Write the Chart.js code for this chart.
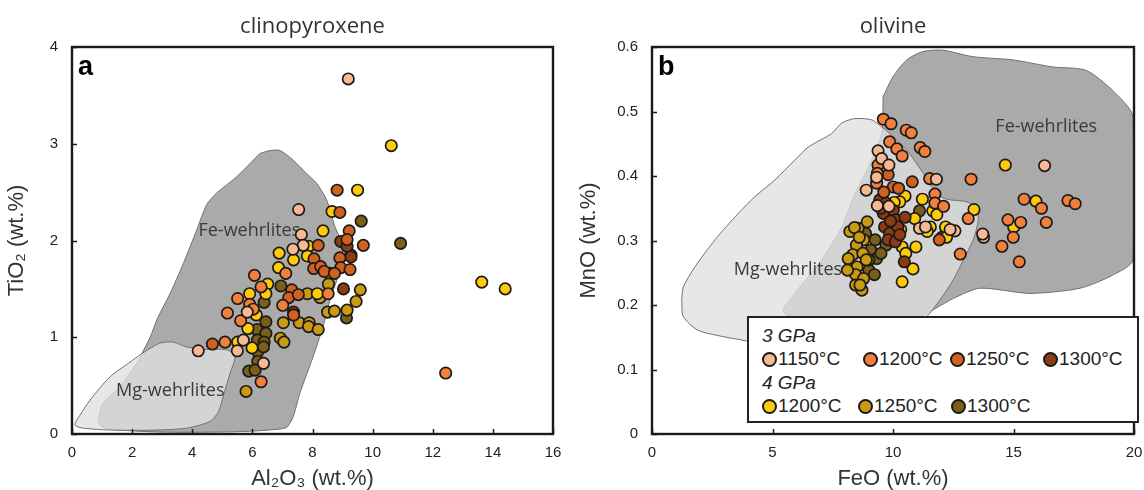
<!DOCTYPE html>
<html><head><meta charset="utf-8">
<script src="https://cdn.jsdelivr.net/npm/chart.js@4.4.1/dist/chart.umd.min.js"></script>
<style>
html,body{margin:0;padding:0;background:#fff}
body{width:1144px;height:490px;overflow:hidden;position:relative;font-family:"Liberation Sans",Arial,sans-serif}
#wa{position:absolute;left:0;top:0;width:572px;height:490px}
#wb{position:absolute;left:572px;top:0;width:572px;height:490px}
#legend{position:absolute;left:747px;top:316px;width:388px;height:103px;border:2px solid #222;background:#fff;color:#222;font-size:19px}
#legend .h{position:absolute;left:13px;font-style:italic;line-height:20px}
#legend .it{position:absolute;display:flex;align-items:center;line-height:20px;white-space:nowrap}
#legend .m{display:inline-block;width:15px;height:15px;border:2px solid #1a1a1a;border-radius:50%;box-sizing:border-box;margin-right:1px}
</style></head>
<body>
<div id="wa"><canvas id="ca" width="572" height="490"></canvas></div>
<div id="wb"><canvas id="cb" width="572" height="490"></canvas></div>
<div id="legend"></div>
<script>
// ---------- series labels & colours ----------
const seriesNames = ["1150°C","1200°C","1250°C","1300°C","1200°C","1250°C","1300°C"];
const seriesGroups = ["3 GPa","3 GPa","3 GPa","3 GPa","4 GPa","4 GPa","4 GPa"];
const seriesColors = ["#F8B892","#F2803C","#D2611F","#8C3B12","#FFCA08","#C99A12","#7B5F19"];

// ---------- panel a: clinopyroxene (Al2O3, TiO2) ----------
const cpx_3GPa_1150 = [[9.19,3.67],[7.54,2.32],[7.63,2.06],[7.69,1.95],[7.35,1.91],[5.83,1.26],[5.70,0.97],[4.20,0.86],[5.50,0.86],[6.37,0.73]];
const cpx_3GPa_1200 = [[7.11,1.66],[6.07,1.64],[6.29,1.52],[5.51,1.40],[5.91,1.34],[6.03,1.29],[5.17,1.25],[5.61,1.17],[5.09,0.95],[6.29,0.54],[12.43,0.63],[8.52,1.45],[7.01,1.33]];
const cpx_3GPa_1250 = [[8.82,2.52],[8.91,2.29],[9.22,2.10],[9.69,1.95],[8.19,1.95],[9.15,2.01],[8.05,1.81],[8.04,1.71],[8.27,1.73],[8.39,1.68],[8.91,1.82],[8.94,1.72],[9.25,1.70],[8.73,1.66],[7.31,1.49],[7.21,1.41],[7.53,1.44],[7.37,1.23],[4.67,0.93]];
const cpx_3GPa_1300 = [[8.94,1.99],[9.15,1.94],[9.28,1.83],[9.03,1.50],[7.37,1.26]];
const cpx_4GPa_1200 = [[10.62,2.98],[9.50,2.52],[8.65,2.30],[8.35,2.10],[7.87,1.94],[6.89,1.87],[7.37,1.80],[7.83,1.84],[6.87,1.72],[6.51,1.55],[6.45,1.45],[8.16,1.45],[5.91,1.45],[6.13,1.23],[5.85,1.09],[5.51,0.95],[5.99,0.89],[13.63,1.57],[14.41,1.50]];
const cpx_4GPa_1250 = [[8.55,1.66],[7.83,1.45],[8.25,1.41],[8.53,1.55],[9.59,1.49],[9.45,1.37],[7.03,1.15],[7.56,1.15],[7.89,1.15],[7.87,1.11],[8.19,1.08],[8.50,1.26],[8.73,1.27],[9.15,1.28],[6.93,0.99],[7.05,0.95],[5.79,0.44]];
const cpx_4GPa_1300 = [[9.62,2.20],[10.93,1.97],[6.95,1.53],[6.39,1.36],[9.13,1.20],[6.15,1.08],[6.45,1.16],[6.45,1.04],[6.17,0.97],[6.39,0.95],[6.18,0.85],[6.37,0.90],[6.18,0.75],[5.88,0.65],[6.09,0.66],[9.28,1.85]];
const cpx_FeWehrlite = [[6.25,2.90],[6.59,2.93],[6.92,2.93],[7.36,2.83],[7.81,2.69],[8.14,2.59],[8.47,2.42],[8.75,2.14],[8.95,2.0],[9.0,1.9],[8.92,1.70],[8.58,1.38],[8.35,1.11],[8.02,0.80],[7.58,0.42],[7.36,0.18],[7.15,0.07],[6.87,0.05],[6.03,0.03],[4.83,0.02],[3.0,0.02],[1.6,0.04],[1.0,0.07],[0.88,0.145],[1.04,0.32],[1.6,0.49],[2.15,0.73],[2.32,0.83],[2.6,1.0],[2.85,1.2],[3.26,1.45],[3.70,1.76],[4.15,2.11],[4.48,2.37],[4.81,2.49],[5.48,2.66],[6.25,2.90]];
const cpx_MgWehrlite = [[0.16,0.145],[0.60,0.35],[1.26,0.59],[1.87,0.73],[2.32,0.83],[2.93,0.94],[3.37,0.95],[3.81,0.90],[4.37,0.875],[5.15,0.87],[5.42,0.80],[5.26,0.63],[5.03,0.39],[4.87,0.23],[4.59,0.13],[3.81,0.06],[2.70,0.04],[1.37,0.04],[0.38,0.06],[0.1,0.09],[0.16,0.145]];
const cpx_labelFe = [5.9,2.10];
const cpx_labelMg = [3.27,0.45];

// ---------- panel b: olivine (FeO, MnO) ----------
const ol_3GPa_1150 = [[9.38,0.439],[9.53,0.427],[9.83,0.417],[9.32,0.398],[8.89,0.378],[16.29,0.416],[13.76,0.305],[13.72,0.310],[11.10,0.319],[11.35,0.321],[12.57,0.315],[12.37,0.317],[9.35,0.354],[9.83,0.353],[11.80,0.395]];
const ol_3GPa_1200 = [[9.60,0.488],[9.92,0.481],[9.86,0.453],[10.16,0.442],[10.38,0.431],[10.55,0.471],[10.76,0.467],[11.13,0.444],[11.32,0.438],[9.38,0.417],[9.35,0.404],[9.32,0.389],[11.52,0.396],[11.74,0.372],[11.74,0.358],[12.10,0.353],[13.24,0.395],[13.12,0.334],[12.79,0.279],[14.52,0.291],[14.99,0.305],[14.77,0.332],[15.30,0.328],[15.24,0.267],[15.44,0.364],[16.16,0.350],[16.36,0.328],[17.26,0.362],[17.56,0.357]];
const ol_3GPa_1250 = [[9.80,0.402],[10.80,0.391],[10.01,0.383],[10.23,0.381],[11.92,0.301],[9.62,0.375]];
const ol_3GPa_1300 = [[9.45,0.363],[9.71,0.358],[9.60,0.342],[10.01,0.347],[10.13,0.332],[9.65,0.321],[9.86,0.311],[10.20,0.321],[10.50,0.336],[9.80,0.301],[10.10,0.298],[10.28,0.309],[10.47,0.267],[9.50,0.350],[9.90,0.330]];
const ol_4GPa_1200 = [[14.66,0.417],[15.93,0.361],[15.01,0.321],[13.36,0.348],[11.22,0.364],[10.50,0.369],[10.28,0.360],[10.05,0.359],[11.65,0.346],[11.82,0.340],[10.90,0.334],[12.18,0.321],[11.55,0.321],[11.42,0.314],[10.32,0.317],[10.38,0.290],[10.53,0.280],[10.95,0.290],[10.83,0.256],[10.38,0.236],[12.22,0.305]];
const ol_4GPa_1250 = [[8.21,0.314],[8.55,0.319],[8.78,0.301],[8.48,0.293],[8.93,0.329],[8.33,0.278],[8.75,0.280],[8.14,0.272],[8.51,0.259],[8.89,0.270],[8.45,0.247],[8.78,0.241],[8.45,0.231],[8.71,0.223],[8.63,0.231],[8.11,0.254],[8.40,0.320],[8.60,0.305]];
const ol_4GPa_1300 = [[8.86,0.311],[9.26,0.301],[9.08,0.285],[9.32,0.272],[9.00,0.254],[9.23,0.247],[9.71,0.293],[11.10,0.346],[12.03,0.305],[9.0,0.270],[9.5,0.28]];
const ol_FeWehrlite = [[9.59,0.523],[10.0,0.554],[10.57,0.580],[11.24,0.593],[12.07,0.595],[13.32,0.585],[14.98,0.580],[16.64,0.569],[18.0,0.564],[19.1,0.533],[19.96,0.492],[19.96,0.27],[19.1,0.246],[17.76,0.226],[15.68,0.218],[13.6,0.226],[12.5,0.21],[11.0,0.18],[9.0,0.165],[6.5,0.17],[5.45,0.19],[5.93,0.218],[7.04,0.270],[7.87,0.321],[8.42,0.373],[8.98,0.414],[9.53,0.466],[9.59,0.523]];
const ol_MgWehrlite = [[1.23,0.208],[1.30,0.228],[1.78,0.259],[2.61,0.301],[3.58,0.342],[4.27,0.368],[5.10,0.394],[5.93,0.425],[6.49,0.445],[7.46,0.466],[7.87,0.482],[8.42,0.489],[9.12,0.487],[9.53,0.476],[9.74,0.470],[10.57,0.440],[11.26,0.404],[11.81,0.373],[12.23,0.364],[13.06,0.360],[13.47,0.350],[13.54,0.332],[13.33,0.301],[12.92,0.270],[12.50,0.239],[11.95,0.208],[11.40,0.182],[10.43,0.155],[9.0,0.14],[6.0,0.13],[3.69,0.146],[2.95,0.151],[1.90,0.161],[1.30,0.182],[1.23,0.208]];
const ol_labelFe = [16.36,0.476];
const ol_labelMg = [5.64,0.255];

// ---------- axes ----------
const cpxX = {min:0,max:16,step:2,title:"Al₂O₃ (wt.%)"};
const cpxY = {min:0,max:4,step:1,title:"TiO₂ (wt.%)"};
const olX = {min:0,max:20,step:5,title:"FeO (wt.%)"};
const olY = {min:0,max:0.6,step:0.1,title:"MnO (wt.%)"};

const toXY = arr => arr.map(p => ({x:p[0], y:p[1]}));

function pointSet(i, arr){
  return {label: seriesGroups[i]+" "+seriesNames[i], data: toXY(arr), order:0,
    backgroundColor: seriesColors[i], borderColor:"#1a1a1a", borderWidth:1.7,
    pointRadius:5.7, pointHoverRadius:5.7, showLine:false};
}
function regionSet(name, arr, fillCol, ord){
  return {label:name, data: toXY(arr), order:ord, showLine:true, fill:'shape',
    backgroundColor: fillCol, borderColor:"#707070", borderWidth:1, pointRadius:0, tension:0.25, region:name};
}

const decor = {
  id:'decor',
  afterDatasetDraw(chart, args, opts){
    const ds = chart.data.datasets[args.index];
    if (ds.region !== 'Mg') return;
    const {ctx, scales:{x,y}} = chart;
    ctx.save();
    ctx.fillStyle = '#3a3a3a';
    ctx.font = '18px "Open Sans", "Noto Sans", sans-serif';
    ctx.textAlign='center'; ctx.textBaseline='middle';
    ctx.fillText('Fe-wehrlites', x.getPixelForValue(opts.fe[0]), y.getPixelForValue(opts.fe[1]));
    ctx.fillText('Mg-wehrlites', x.getPixelForValue(opts.mg[0]), y.getPixelForValue(opts.mg[1]));
    ctx.restore();
  },
  afterDraw(chart, args, opts){
    const {ctx, chartArea:a, scales:{x,y}} = chart;
    ctx.save();
    ctx.strokeStyle='#1a1a1a'; ctx.lineWidth=1.5;
    x.ticks.forEach(t=>{const px=Math.round(x.getPixelForValue(t.value))+0.5; ctx.beginPath(); ctx.moveTo(px,a.bottom); ctx.lineTo(px,a.bottom-5); ctx.stroke();});
    y.ticks.forEach(t=>{const py=Math.round(y.getPixelForValue(t.value))+0.5; ctx.beginPath(); ctx.moveTo(a.left,py); ctx.lineTo(a.left+5,py); ctx.stroke();});
    ctx.lineWidth=2.4; ctx.strokeRect(a.left,a.top,a.width,a.height);
    ctx.fillStyle='#000'; ctx.font='bold 27px "Liberation Sans", Arial, sans-serif';
    ctx.textAlign='left'; ctx.textBaseline='alphabetic';
    ctx.fillText(opts.panel, a.left+6, a.top+28);
    ctx.fillStyle='#333'; ctx.font='22px "Open Sans", "Noto Sans", sans-serif';
    ctx.textAlign='center';
    ctx.fillText(opts.title, (a.left+a.right)/2, 33);
    ctx.restore();
  }
};

function makeChart(id, title, xs, ys, pts, fe, mg, lab, panel, yw, rp, ypad){
  const ds = pts.map((arr,i)=>pointSet(i,arr));
  ds.push(regionSet('Mg', mg, 'rgba(224,224,224,0.78)', 1));
  ds.push(regionSet('Fe', fe, 'rgba(165,165,165,0.95)', 2));
  const axTitleFont = {family:'"Liberation Sans", Arial, sans-serif', size:22, lineHeight:1};
  const tickFont = {family:'"Liberation Sans", Arial, sans-serif', size:15};
  return new Chart(document.getElementById(id), {
    type:'scatter',
    data:{datasets:ds},
    options:{
      responsive:false, animation:false, events:[],
      layout:{padding:{left:0,right:rp,top:47,bottom:0}},
      plugins:{legend:{display:false}, tooltip:{enabled:false}, title:{display:false},
        decor:{fe:lab[0], mg:lab[1], panel:panel, title:title}},
      scales:{
        x:{type:'linear', min:xs.min, max:xs.max, grid:{display:false, drawTicks:false}, border:{display:false},
           ticks:{stepSize:xs.step, padding:10, color:'#222', font:tickFont},
           title:{display:true, text:xs.title, color:'#333', font:axTitleFont, padding:{top:0,bottom:0}},
           afterFit:s=>{s.height=56; s.paddingLeft=0; s.paddingRight=0;}},
        y:{type:'linear', min:ys.min, max:ys.max, grid:{display:false, drawTicks:false}, border:{display:false},
           ticks:{stepSize:ys.step, padding:ypad, color:'#222', font:tickFont},
           title:{display:true, text:ys.title, color:'#333', font:axTitleFont, padding:{top:6,bottom:0}},
           afterFit:s=>{s.width=yw; s.paddingTop=0; s.paddingBottom=0;}}
      }
    },
    plugins:[decor]
  });
}

makeChart('ca','clinopyroxene',cpxX,cpxY,
  [cpx_3GPa_1150,cpx_3GPa_1200,cpx_3GPa_1250,cpx_3GPa_1300,cpx_4GPa_1200,cpx_4GPa_1250,cpx_4GPa_1300],
  cpx_FeWehrlite,cpx_MgWehrlite,[cpx_labelFe,cpx_labelMg],'a',72,19,14);
makeChart('cb','olivine',olX,olY,
  [ol_3GPa_1150,ol_3GPa_1200,ol_3GPa_1250,ol_3GPa_1300,ol_4GPa_1200,ol_4GPa_1250,ol_4GPa_1300],
  ol_FeWehrlite,ol_MgWehrlite,[ol_labelFe,ol_labelMg],'b',80,10,14);

// ---------- HTML legend ----------
const legendRows = [
  {head:"3 GPa", top:8, items:[0,1,2,3], lefts:[13,114,201,294]},
  {head:"4 GPa", top:55, items:[4,5,6], lefts:[13,109,202]}
];
const lg = document.getElementById('legend');
legendRows.forEach(r=>{
  const h=document.createElement('div'); h.className='h'; h.style.top=r.top+'px'; h.textContent=r.head; lg.appendChild(h);
  r.items.forEach((si,k)=>{
    const it=document.createElement('div'); it.className='it'; it.style.left=r.lefts[k]+'px'; it.style.top=(r.top+23)+'px';
    const m=document.createElement('span'); m.className='m'; m.style.background=seriesColors[si];
    it.appendChild(m); it.appendChild(document.createTextNode(seriesNames[si])); lg.appendChild(it);
  });
});
</script>
</body></html>
